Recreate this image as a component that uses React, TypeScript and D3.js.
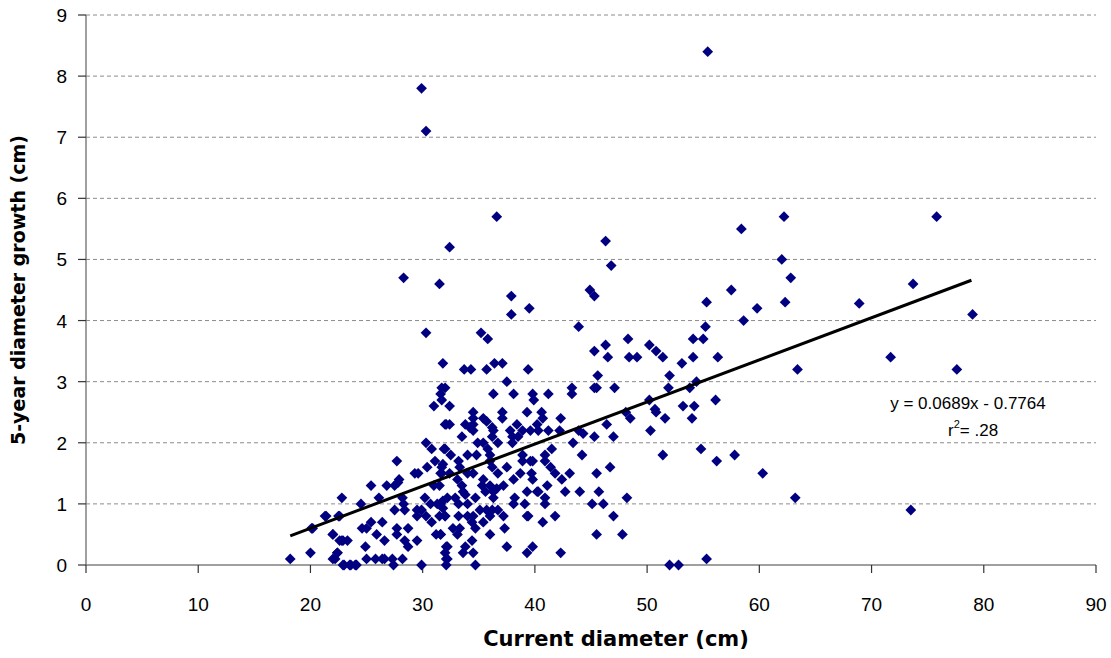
import React from "react";
import * as d3 from "d3";

// current diameter (cm) and 5-year diameter growth (cm)
const DIAMETER = [
  18.2, 20.0, 20.2, 21.3, 22.0, 22.0, 22.4, 22.6, 22.9, 22.6, 22.9, 23.6, 24.1, 22.8,
  29.9, 30.3, 55.4,
  28.3, 31.5, 32.4, 36.6, 30.3, 31.8, 31.7, 32.0, 31.6, 31.7, 31.0, 32.4, 32.0,
  32.1, 30.3, 30.8, 31.9, 27.7, 31.1, 30.4, 31.7, 29.3, 29.6, 31.7, 27.9, 27.8,
  25.4, 26.8, 27.5, 31.0, 31.5, 26.1, 24.5, 28.2, 28.3, 30.2, 30.7, 31.3, 31.8,
  27.5, 28.4, 29.5, 29.9, 21.4, 22.5, 25.4, 26.4, 29.5, 30.3, 30.8, 31.5, 32.0,
  20.1, 24.6, 25.0, 27.7, 28.7, 22.0, 25.9, 31.2, 31.6, 27.7, 22.8, 23.3, 26.6,
  28.4, 29.5, 32.1, 24.9, 28.7, 22.4, 22.2, 25.0, 25.8, 26.4, 26.6, 27.3, 28.2,
  32.1, 23.0, 23.5, 24.0, 27.4, 29.9, 32.1,
  37.9, 37.9, 39.5, 44.9, 45.3, 43.9, 35.2, 35.8, 48.3, 46.3, 45.3, 46.5, 48.4,
  49.1, 33.7, 34.3, 35.7, 36.4, 37.1, 39.4, 45.6, 37.5, 45.3, 45.5, 47.1, 43.3,
  43.3, 36.3, 38.1, 39.8, 39.9, 41.2, 34.5, 34.5, 34.5, 35.4, 35.7, 36.2, 37.1,
  37.1, 39.3, 40.6, 40.7, 42.3, 48.1, 48.5, 32.4, 33.8, 34.2, 38.4, 40.2, 46.4,
  37.8, 38.9, 39.6, 40.3, 41.2, 42.2, 43.9, 44.3, 45.3, 47.0, 33.5, 34.5, 36.2,
  36.3, 38.0, 38.5, 34.9, 35.4, 36.7, 38.0, 43.4, 32.0, 35.8, 41.5, 32.5, 34.0,
  34.8, 36.0, 38.9, 40.9, 44.2, 33.2, 31.8, 33.3, 36.0, 36.2, 38.9, 39.6, 39.8,
  40.9, 41.4, 46.7, 31.6, 32.4, 34.0, 34.5, 36.7, 37.5, 38.7, 39.7, 41.8, 43.1,
  45.5, 33.1, 35.4, 38.1, 39.8, 42.4, 33.5, 35.3, 36.0, 37.2, 41.1, 36.6, 33.6,
  35.6, 36.3, 39.3, 40.2, 40.3, 42.7, 44.0, 45.7, 33.8, 36.3, 38.2, 40.9, 48.2,
  32.2, 32.9, 34.7, 31.6, 33.2, 34.0, 38.1, 39.1, 40.9, 45.1, 46.1, 31.8, 35.1,
  35.7, 36.2, 36.7, 32.0, 33.2, 34.0, 34.5, 36.0, 37.2, 39.3, 39.4, 41.8, 47.0,
  34.4, 35.4, 40.7, 32.7, 33.3, 34.7, 37.3, 33.1, 31.6, 36.0, 45.5, 47.8, 34.4,
  33.8, 32.2, 37.5, 39.8, 32.0, 33.6, 34.5, 39.3, 42.3, 32.2, 34.7,
  58.4, 62.0, 62.8, 57.5, 55.3, 62.3, 59.8, 68.9, 58.6, 55.2, 54.1, 55.0, 50.2,
  50.8, 51.4, 54.1, 56.3, 53.1, 52.0, 51.9, 53.8, 54.4, 63.4, 50.2, 56.1, 53.2,
  54.2, 50.7, 50.8, 51.6, 54.0, 50.3, 51.4, 54.8, 56.2, 57.8, 60.3, 63.2, 52.0,
  52.8, 55.3, 75.8, 73.7, 79.0, 71.7, 77.6, 73.5, 62.2, 46.3, 46.8,
];
const GROWTH = [
  0.1, 0.2, 0.6, 0.8, 0.5, 0.1, 0.2, 0.4, 0.4, 0.8, 0.0, 0.0, 0.0, 1.1,
  7.8, 7.1, 8.4,
  4.7, 4.6, 5.2, 5.7, 3.8, 3.3, 2.9, 2.9, 2.8, 2.7, 2.6, 2.6, 2.3,
  2.3, 2.0, 1.9, 1.9, 1.7, 1.7, 1.6, 1.6, 1.5, 1.5, 1.5, 1.4, 1.35,
  1.3, 1.3, 1.3, 1.3, 1.3, 1.1, 1.0, 1.1, 1.0, 1.1, 1.0, 1.0, 1.05,
  0.9, 0.9, 0.9, 0.9, 0.8, 0.8, 0.7, 0.7, 0.8, 0.8, 0.7, 0.8, 0.8,
  0.6, 0.6, 0.6, 0.6, 0.6, 0.5, 0.5, 0.5, 0.5, 0.5, 0.4, 0.4, 0.4,
  0.4, 0.4, 0.3, 0.3, 0.3, 0.2, 0.1, 0.1, 0.1, 0.1, 0.1, 0.1, 0.1,
  0.1, 0.0, 0.0, 0.0, 0.0, 0.0, 0.0,
  4.4, 4.1, 4.2, 4.5, 4.4, 3.9, 3.8, 3.7, 3.7, 3.6, 3.5, 3.4, 3.4,
  3.4, 3.2, 3.2, 3.2, 3.3, 3.3, 3.2, 3.1, 3.0, 2.9, 2.9, 2.9, 2.9,
  2.8, 2.8, 2.8, 2.8, 2.7, 2.8, 2.5, 2.4, 2.3, 2.4, 2.35, 2.25, 2.5,
  2.4, 2.5, 2.5, 2.4, 2.4, 2.5, 2.4, 2.3, 2.3, 2.25, 2.3, 2.3, 2.3,
  2.2, 2.2, 2.2, 2.2, 2.2, 2.2, 2.2, 2.15, 2.1, 2.1, 2.1, 2.2, 2.1,
  2.2, 2.1, 2.1, 2.0, 2.0, 2.0, 2.0, 2.0, 1.9, 1.9, 1.9, 1.8, 1.8,
  1.8, 1.8, 1.8, 1.8, 1.8, 1.7, 1.65, 1.6, 1.7, 1.6, 1.7, 1.7, 1.7,
  1.7, 1.6, 1.6, 1.5, 1.5, 1.5, 1.5, 1.5, 1.6, 1.5, 1.5, 1.5, 1.5,
  1.5, 1.4, 1.4, 1.4, 1.4, 1.4, 1.3, 1.3, 1.3, 1.3, 1.3, 1.25, 1.2,
  1.2, 1.2, 1.2, 1.2, 1.2, 1.2, 1.2, 1.2, 1.15, 1.1, 1.1, 1.1, 1.1,
  1.1, 1.1, 1.1, 1.0, 1.0, 1.0, 1.0, 1.0, 1.0, 1.0, 1.0, 0.93, 0.9,
  0.9, 0.9, 0.9, 0.8, 0.8, 0.8, 0.8, 0.8, 0.8, 0.8, 0.8, 0.8, 0.8,
  0.7, 0.7, 0.7, 0.6, 0.6, 0.6, 0.6, 0.5, 0.5, 0.5, 0.5, 0.5, 0.4,
  0.3, 0.3, 0.3, 0.3, 0.2, 0.2, 0.2, 0.2, 0.2, 0.1, 0.0,
  5.5, 5.0, 4.7, 4.5, 4.3, 4.3, 4.2, 4.28, 4.0, 3.9, 3.7, 3.7, 3.6,
  3.5, 3.4, 3.4, 3.4, 3.3, 3.1, 2.9, 2.9, 3.0, 3.2, 2.7, 2.7, 2.6,
  2.6, 2.55, 2.5, 2.4, 2.4, 2.2, 1.8, 1.9, 1.7, 1.8, 1.5, 1.1, 0.0,
  0.0, 0.1, 5.7, 4.6, 4.1, 3.4, 3.2, 0.9, 5.7, 5.3, 4.9,
];

const X_TICKS = [0, 10, 20, 30, 40, 50, 60, 70, 80, 90];
const Y_TICKS = [0, 1, 2, 3, 4, 5, 6, 7, 8, 9];

// fitted line shown on the chart: y = 0.0689x - 0.7764, r2 = .28
const SLOPE = 0.0689;
const INTERCEPT = -0.7764;
const FIT_RANGE = [18.2, 78.9];

const WIDTH = 1111;
const HEIGHT = 658;
const PLOT = { left: 86, right: 1096, top: 15, bottom: 565 };

const LABEL_FONT = "'Liberation Sans', Arial, sans-serif";
const TITLE_FONT = "'DejaVu Sans', Verdana, sans-serif";

export default function App() {
  const x = d3.scaleLinear().domain([0, 90]).range([PLOT.left, PLOT.right]);
  const y = d3.scaleLinear().domain([0, 9]).range([PLOT.bottom, PLOT.top]);

  const points = DIAMETER.map((d, i) => ({ x: d, y: GROWTH[i] }));
  const diamond = d3.symbol(d3.symbolSquare, 58)();
  const fitLine = d3
    .line<number>()
    .x((d) => x(d))
    .y((d) => y(SLOPE * d + INTERCEPT))(FIT_RANGE);

  return (
    <svg
      width={WIDTH}
      height={HEIGHT}
      style={{ position: "absolute", left: 0, top: 0, background: "#fff" }}
    >
      {/* gridlines */}
      {Y_TICKS.filter((t) => t > 0).map((t) => (
        <line
          key={"g" + t}
          x1={PLOT.left}
          x2={PLOT.right}
          y1={y(t)}
          y2={y(t)}
          stroke="#8c8c8c"
          strokeWidth={1}
          strokeDasharray="4,3"
        />
      ))}

      {/* axes */}
      <line x1={PLOT.left} x2={PLOT.left} y1={PLOT.top} y2={PLOT.bottom} stroke="#7f7f7f" strokeWidth={1.5} />
      <line x1={PLOT.left} x2={PLOT.right} y1={PLOT.bottom} y2={PLOT.bottom} stroke="#7f7f7f" strokeWidth={1.5} />

      {Y_TICKS.map((t) => (
        <g key={"y" + t}>
          <line x1={PLOT.left - 8} x2={PLOT.left} y1={y(t)} y2={y(t)} stroke="#333" strokeWidth={1.2} />
          <text
            x={67}
            y={y(t) + 7}
            textAnchor="end"
            fontFamily={LABEL_FONT}
            fontSize={19}
            fill="#000"
          >
            {t}
          </text>
        </g>
      ))}

      {X_TICKS.map((t) => (
        <g key={"x" + t}>
          <line x1={x(t)} x2={x(t)} y1={PLOT.bottom} y2={PLOT.bottom + 8} stroke="#333" strokeWidth={1.2} />
          <text
            x={x(t)}
            y={611}
            textAnchor="middle"
            fontFamily={LABEL_FONT}
            fontSize={19}
            fill="#000"
          >
            {t}
          </text>
        </g>
      ))}

      {/* points */}
      {points.map((p, i) => (
        <path
          key={i}
          d={diamond}
          transform={`translate(${x(p.x)},${y(p.y)}) rotate(45)`}
          fill="#000080"
        />
      ))}

      {/* trend line */}
      <path d={fitLine ?? ""} fill="none" stroke="#000" strokeWidth={3} />

      <text x={968} y={409} textAnchor="middle" fontFamily={LABEL_FONT} fontSize={17} fill="#000">
        y = 0.0689x - 0.7764
      </text>
      <text x={948} y={436} fontFamily={LABEL_FONT} fontSize={17} fill="#000">
        r<tspan dy={-8} fontSize={11}>2</tspan>
        <tspan dy={8}>= .28</tspan>
      </text>

      {/* axis titles */}
      <text
        x={616}
        y={646}
        textAnchor="middle"
        fontFamily={TITLE_FONT}
        fontWeight="bold"
        fontSize={21}
        fill="#000"
      >
        Current diameter (cm)
      </text>
      <text
        transform={`translate(25,${(PLOT.top + PLOT.bottom) / 2}) rotate(-90)`}
        textAnchor="middle"
        fontFamily={TITLE_FONT}
        fontWeight="bold"
        fontSize={19}
        fill="#000"
      >
        5-year diameter growth (cm)
      </text>
    </svg>
  );
}
